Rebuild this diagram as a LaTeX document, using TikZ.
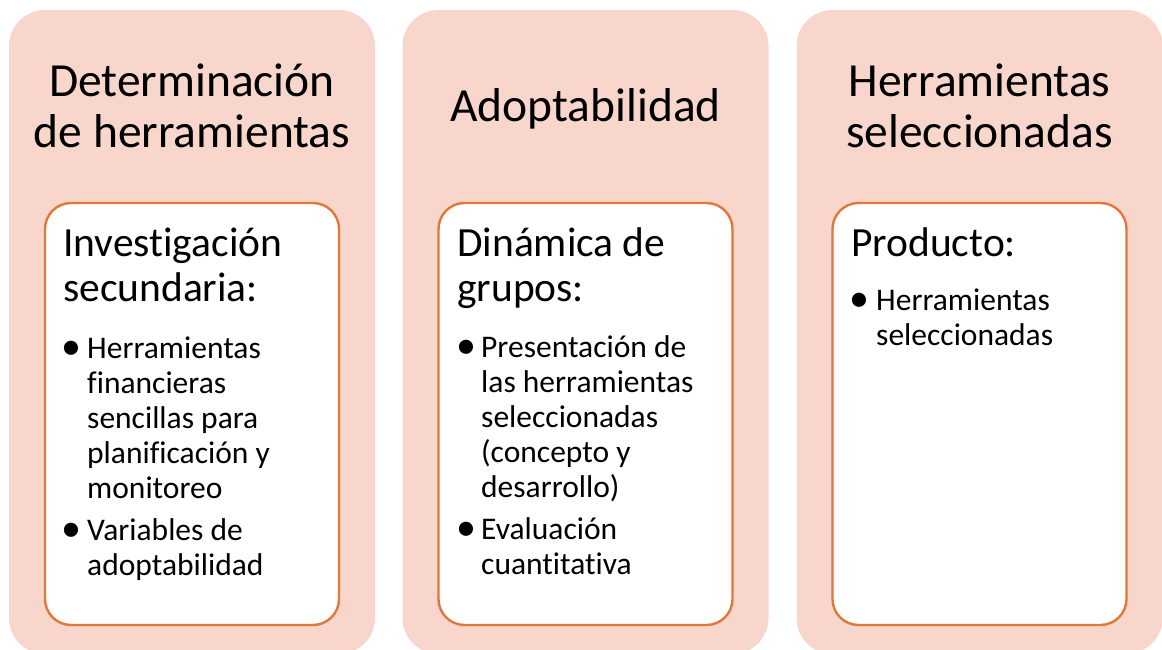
\documentclass[tikz,border=0pt]{standalone}
\usepackage{fontspec}
\setmainfont{Carlito}[Ligatures=NoCommon]
\definecolor{pinkbg}{HTML}{F8D6CB}
\definecolor{orangeline}{HTML}{E0783A}
\begin{document}
\begin{tikzpicture}[x=1pt,y=-1pt,
  outerbox/.style={fill=pinkbg, draw=none, rounded corners=36pt, inner sep=0pt, minimum width=366pt, minimum height=644pt},
  innerbox/.style={fill=white, draw=orangeline, line width=2.4pt, rounded corners=26pt, inner sep=0pt, minimum width=294pt, minimum height=422pt},
  titletext/.style={font=\fontsize{47.5}{50}\selectfont, anchor=base, inner sep=0pt},
  headtext/.style={font=\fontsize{41.5}{45}\selectfont, anchor=base west, inner sep=0pt},
  itemtext/.style={font=\fontsize{31.5}{35}\selectfont, anchor=base west, inner sep=0pt},
  bulletmark/.style={font=\fontsize{40}{35}\selectfont, anchor=base, inner sep=0pt},
]
\useasboundingbox (0,0) rectangle (1162,650);
% columns
\node[outerbox] (col1) at (192,332) {};
\node[outerbox] (col2) at (585.5,332) {};
\node[outerbox] (col3) at (979.5,332) {};
\node[innerbox] (in1) at (192,414) {};
\node[innerbox] (in2) at (585.5,414) {};
\node[innerbox] (in3) at (979.5,414) {};
% titles
\node[titletext] (t1a) at (192,97) {Determinación};
\node[titletext] (t1b) at (192,148) {de herramientas};
\node[titletext] (t2a) at (585.5,122) {Adoptabilidad};
\node[titletext] (t3a) at (979.5,97) {Herramientas};
\node[titletext] (t3b) at (979.5,148) {seleccionadas};
% headings
\node[headtext] (h1a) at (63,256) {Investigación};
\node[headtext] (h1b) at (63,301) {secundaria:};
\node[headtext] (h2a) at (457,256) {Dinámica de};
\node[headtext] (h2b) at (457,301) {grupos:};
\node[headtext] (h3a) at (851,256) {Producto:};
% column 1 items
\node[bulletmark] (b1a) at (71,359) {\textbullet};
\foreach \t [count=\i from 0] in {{Herramientas}, {financieras}, {sencillas para}, {planificación y}, {monitoreo}}
  \node[itemtext] (i1a\i) at (87,358+35*\i) {\t};
\node[bulletmark] (b1b) at (71,541) {\textbullet};
\foreach \t [count=\i from 0] in {{Variables de}, {adoptabilidad}}
  \node[itemtext] (i1b\i) at (87,540+35*\i) {\t};
% column 2 items
\node[bulletmark] (b2a) at (466,358) {\textbullet};
\foreach \t [count=\i from 0] in {{Presentación de}, {las herramientas}, {seleccionadas}, {(concepto y}, {desarrollo)}}
  \node[itemtext] (i2a\i) at (481,357+35*\i) {\t};
\node[bulletmark] (b2b) at (466,540) {\textbullet};
\foreach \t [count=\i from 0] in {{Evaluación}, {cuantitativa}}
  \node[itemtext] (i2b\i) at (481,539+35*\i) {\t};
% column 3 items
\node[bulletmark] (b3a) at (859,311) {\textbullet};
\foreach \t [count=\i from 0] in {{Herramientas}, {seleccionadas}}
  \node[itemtext] (i3a\i) at (876,310+35*\i) {\t};
\end{tikzpicture}
\end{document}
